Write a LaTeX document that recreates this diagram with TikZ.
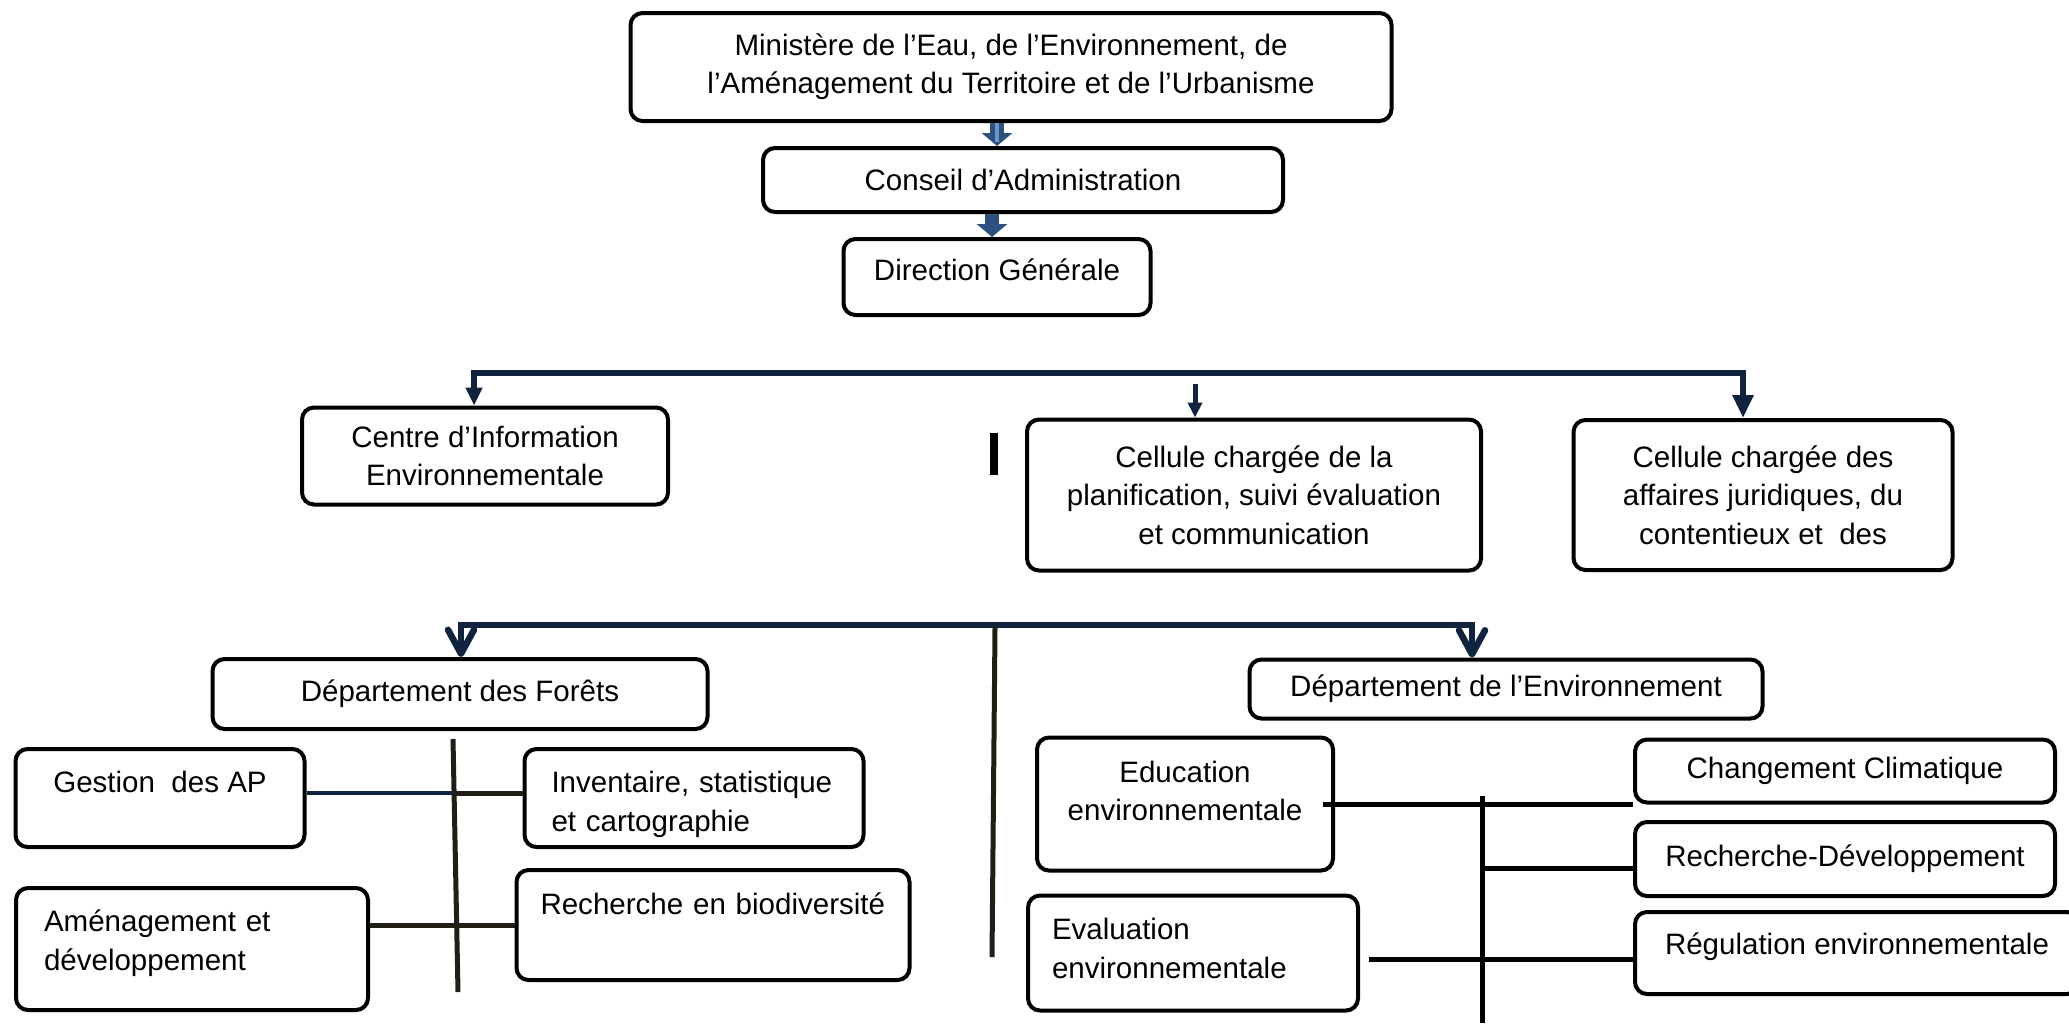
\documentclass[tikz,border=0pt]{standalone}
\usepackage{fontspec}
\setmainfont{Liberation Sans}
\usetikzlibrary{arrows.meta}
\definecolor{navy}{RGB}{16,36,64}
\definecolor{steel}{RGB}{45,80,125}
\definecolor{stripe}{RGB}{105,150,205}
\definecolor{darkline}{RGB}{33,30,22}
\begin{document}
\begin{tikzpicture}[x=0.1mm, y=-0.1mm,
	box/.style={draw, line width=0.4mm, rounded corners=1.2mm, align=center, inner sep=0pt, font=\fontsize{8.4}{10.9}\selectfont},
	textlift/.style={text depth=#1},
	conn/.style={darkline, line width=0.5mm},
	bus/.style={navy, line width=0.6mm},
	blockarrow/.style={steel, line width=1.4mm, -{Triangle[width=3mm, length=1.3mm]}}]
		\useasboundingbox (0,0) rectangle (2069,1023);
		\clip (0,0) rectangle (2069,1023);
		\node [box, minimum width=76.1mm, minimum height=10.8mm](ministere) at (1011,67) {Ministère de l’Eau, de l’Environnement, de\\l’Aménagement du Territoire et de l’Urbanisme};
		\node [box, minimum width=52mm, minimum height=6.4mm](conseil) at (1023,180) {Conseil d’Administration};
		\node [box, minimum width=30.7mm, minimum height=7.6mm, textlift=1.4mm](dir_gen) at (997,277) {Direction Générale};
		\draw [blockarrow] (ministere.south -| dir_gen.north) -- (conseil.north -| dir_gen.north);
		\draw [stripe, line width=0.4mm] (ministere.south -| dir_gen.north) -- ++(0,19);
		\draw [blockarrow] ([xshift=-0.5mm]conseil.south -| dir_gen.north) -- ([xshift=-0.5mm]dir_gen.north);
		\node [box, minimum width=36.6mm, minimum height=9.7mm](centre_info) at (485,456) {Centre d’Information\\Environnementale};
		\node [box, minimum width=45.4mm, minimum height=15.1mm](cell_plan) at (1254,495) {Cellule chargée de la\\planification, suivi évaluation\\et communication};
		\node [box, minimum width=37.9mm, minimum height=15mm](cell_jur) at (1763,495) {Cellule chargée des\\affaires juridiques, du\\contentieux et\ \ des};
		\coordinate (bus_l) at (474,373);
		\coordinate (bus_r) at (1743,373);
		\coordinate (plan_arrow) at (1195,384);
		\draw [bus, {Triangle[width=1.6mm, length=1.8mm]}-{Triangle[width=2mm, length=2.3mm]}] (centre_info.north -| bus_l) -- (bus_l) -- (bus_r) -- (cell_jur.north -| bus_r);
		\draw [navy, line width=0.5mm, -{Triangle[width=1.4mm, length=1.5mm]}] (plan_arrow) -- (plan_arrow |- cell_plan.north);
		\draw [black, line width=0.8mm] (994,433) -- (994,475);
		\node [box, minimum width=49.5mm, minimum height=7mm](dep_forets) at (460,694) {Département des Forêts};
		\node [box, minimum width=51.3mm, minimum height=5.9mm](dep_env) at (1506,689) {Département de l’Environnement};
		\coordinate (bus2_l) at (461,625);
		\coordinate (bus2_r) at (1472,625);
		\coordinate (mid_top) at (995,627);
		\coordinate (mid_bot) at (992,957);
		\draw [bus, line width=0.65mm, {Straight Barb[width=2.6mm, length=2.4mm, round]}-{Straight Barb[width=2.6mm, length=2.4mm, round]}] (dep_forets.north -| bus2_l) -- (bus2_l) -- (bus2_r) -- (dep_env.north -| bus2_r);
		\draw [conn] (mid_top) -- (mid_bot);
		\node [box, minimum width=28.9mm, minimum height=9.8mm, textlift=3.2mm](gestion_ap) at (160,798) {Gestion\ \ des AP};
		\node [box, align=left, text width=28.5mm, inner xsep=2.7mm, minimum height=9.8mm, textlift=3.2mm](inventaire) at (694,798) {Inventaire, statistique\\et cartographie};
		\node [box, align=left, text width=29.6mm, inner xsep=2.8mm, minimum height=12.2mm, textlift=5.6mm](amenagement) at (192,949) {Aménagement et\\développement};
		\node [box, align=left, text width=34.5mm, inner xsep=2.4mm, minimum height=11mm, textlift=4.3mm](rech_bio) at (713,925) {Recherche en biodiversité};
		\coordinate (forets_top) at (453,739);
		\coordinate (forets_bot) at (458,992);
		\draw [conn] (forets_top) -- (forets_bot);
		\draw [navy, line width=0.45mm] ([yshift=0.5mm]gestion_ap.east) -- ([yshift=0.5mm]gestion_ap.east -| forets_top);
		\draw [conn] ([yshift=0.5mm]gestion_ap.east -| forets_top) -- ([yshift=0.5mm]inventaire.west);
		\draw [conn] (amenagement.east |- rech_bio.west) -- (rech_bio.west);
		\node [box, minimum width=29.6mm, minimum height=13.3mm, textlift=2.7mm](educ_env) at (1185,804) {Education\\environnementale};
		\node [box, align=left, text width=28.2mm, inner xsep=2.4mm, minimum height=11.5mm, textlift=4.8mm](eval_env) at (1193,953) {Evaluation\\environnementale};
		\node [box, minimum width=42mm, minimum height=6.3mm](chg_clim) at (1845,771) {Changement Climatique};
		\node [box, minimum width=42mm, minimum height=7.4mm](rech_dev) at (1845,859) {Recherche-Développement};
		\node [box, minimum width=44.4mm, minimum height=8.2mm, textlift=1.8mm](reg_env) at (1857,953) {Régulation environnementale};
		\coordinate (env_top) at (1482,796);
		\coordinate (env_bot) at (1482,1023);
		\draw [conn, black] (env_top) -- (env_bot);
		\draw [conn, black] ([xshift=-1.2mm]educ_env.east |- chg_clim.south) -- (chg_clim.south west);
		\draw [conn, black] ([yshift=-0.9mm]rech_dev.west -| env_top) -- ([yshift=-0.9mm]rech_dev.west);
		\draw [conn, black] ([xshift=0.9mm, yshift=-0.6mm]eval_env.east) -- ([yshift=-0.6mm]eval_env.east -| reg_env.west);
\end{tikzpicture}
\end{document}
